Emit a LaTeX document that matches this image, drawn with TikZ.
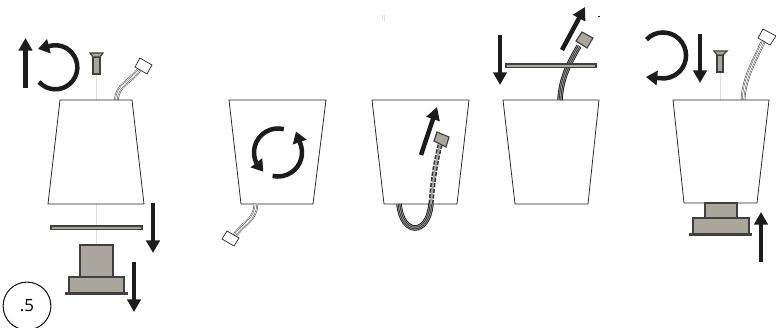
\documentclass[tikz,border=0pt]{standalone}
\usepackage{fontspec}
\setmainfont{Open Sans}
\usetikzlibrary{arrows.meta}
\definecolor{partgray}{RGB}{171,166,156}
\definecolor{arrowblack}{RGB}{28,28,28}

% one cable of four thin wires
\newcommand{\wirecable}[1]{
   \draw[line width=3.2pt,black!80] #1;
   \draw[line width=2.5pt,white] #1;
   \draw[line width=1.5pt,black!70] #1;
   \draw[line width=0.8pt,white] #1;
}

% the same cable in its dark sleeve
\newcommand{\darkcable}[1]{
   \draw[line width=3.9pt,black!90] #1;
   \draw[line width=2.7pt,black!40] #1;
   \draw[line width=1.6pt,black!85] #1;
   \draw[line width=0.6pt,black!40] #1;
}

\begin{document}
\begin{tikzpicture}[
   x=0.025cm,
   y=-0.025cm,
   bigarrow/.style={
      draw=arrowblack,
      line width=3.2pt,
      -{Triangle[width=9.5pt,length=9pt]}
   },
   turnarrow/.style={
      draw=arrowblack,
      line width=3.2pt,
      -{Triangle[width=10pt,length=8pt]}
   },
   cup/.style={
      draw=black!85,
      line width=0.55pt,
      fill=white
   },
   part/.style={
      draw=black!75,
      line width=0.8pt,
      fill=partgray
   },
   plug/.style={
      draw=black!85,
      line width=0.5pt,
      fill=white
   },
   axis/.style={
      draw=black!12,
      line width=0.35pt
   }
]

   \useasboundingbox (0,0) rectangle (776,328);
   \clip (0,0) rectangle (776,328);

   % Step number
   \node[
      circle,
      draw=black!90,
      line width=0.75pt,
      minimum size=34pt,
      inner sep=0pt,
      font=\large
   ] (stepnumber) at (27,306) {.5};

   % First view: screw, cup, plate and foot taken apart
   \draw[axis] (96.5,74) -- (96.5,100);
   \draw[axis] (96.5,204) -- (96.5,245);

   \draw[bigarrow] (25.5,88) -- (25.5,38);
   \draw[turnarrow] (39,82) arc[start angle=138,end angle=-105,radius=22] -- (38,49);

   \draw[part] (93,57) rectangle (100,74);
   \draw[part] (90,53) -- (103,53) -- (100,57) -- (93,57) -- cycle;

   \wirecable{(116.5,100) .. controls (117,85) and (130,82) .. (139,70)}
   \draw[plug] (140,58) -- (152,65) -- (147,74) -- (135,67) -- cycle;

   \draw[cup] (60,100) -- (132,100) -- (144,204) -- (48,204) -- cycle;

   \draw[part] (51,226) rectangle (142,229.5);
   \draw[bigarrow] (153,203) -- (153,253);

   \draw[part] (80,245) rectangle (113,277);
   \draw[part] (69,277) rectangle (124,293);
   \draw[part,line width=1pt] (66,293) rectangle (127,294);
   \draw[bigarrow] (134,262) -- (134,312);

   % Second view: cup turned with cable below
   \draw[cup] (229,100) -- (326,100) -- (313,204) -- (241,204) -- cycle;

   \draw[turnarrow] (283.8,129.2) arc[start angle=-76,end angle=-205,radius=24] -- (263.3,171.7);
   \draw[turnarrow] (272.6,175.9) arc[start angle=103,end angle=-23,radius=24] -- (296,131.5);

   \wirecable{(256,204) .. controls (255,220) and (245,222) .. (235,235)}
   \draw[plug] (227,231) -- (239,238) -- (234,246) -- (222,239) -- cycle;

   % Third view: cable pushed up through the cup
   \draw[cup] (372,100) -- (469,100) -- (457,204) -- (384,204) -- cycle;

   \darkcable{(399,204) .. controls (402,236) and (428,236) .. (431,204)}
   \draw[line width=3.6pt,black!80,dash pattern=on 3pt off 1pt]
      (431,204) .. controls (433,180) and (435,165) .. (440,145);
   \draw[line width=1.4pt,black!35]
      (431,204) .. controls (433,180) and (435,165) .. (440,145);
   \draw[part] (437,132) -- (449,137) -- (446,147) -- (434,141) -- cycle;

   \draw[bigarrow] (421,155) -- (437,107);

   % Fourth view: plate slid over the cable
   \draw[cup] (503,100) -- (599,100) -- (588,204) -- (515,204) -- cycle;

   \darkcable{(560,100) .. controls (561,82) and (566,68) .. (579,46)}
   \draw[part] (582,32) -- (593,38) -- (587,48) -- (576,41) -- cycle;

   \draw[part] (506,64) rectangle (596,67.5);
   \draw[bigarrow] (500,35) -- (500,85);
   \draw[bigarrow] (562,50) -- (585,7);

   % Stray marks at the top of the sheet
   \draw[line width=0.7pt,black!85] (598,16) -- (600,16);
   \draw[line width=0.4pt,black!12] (382,15) -- (382,21);
   \draw[line width=0.4pt,black!12] (384,15) -- (384,21);

   % Fifth view: everything put back together
   \draw[axis] (720,72) -- (720,100);

   \draw[turnarrow] (646.5,39.5) arc[start angle=-136,end angle=100,radius=23] -- (646,77);
   \draw[bigarrow] (700,34) -- (700,83);

   \draw[part] (717,55) rectangle (723,72);
   \draw[part] (714,51) -- (727,51) -- (723,55) -- (717,55) -- cycle;

   \wirecable{(743,100) .. controls (744,80) and (752,65) .. (763,42)}
   \draw[plug] (763,29) -- (776,36) -- (770,45) -- (758,38) -- cycle;

   \draw[cup] (673,100) -- (769,100) -- (757,203) -- (684,203) -- cycle;

   \draw[part] (705,203) rectangle (737,218);
   \draw[part] (693,218) rectangle (749,234);
   \draw[part,line width=1pt] (690,234) rectangle (751,235.5);
   \draw[bigarrow] (761,262) -- (761,212);

\end{tikzpicture}
\end{document}
